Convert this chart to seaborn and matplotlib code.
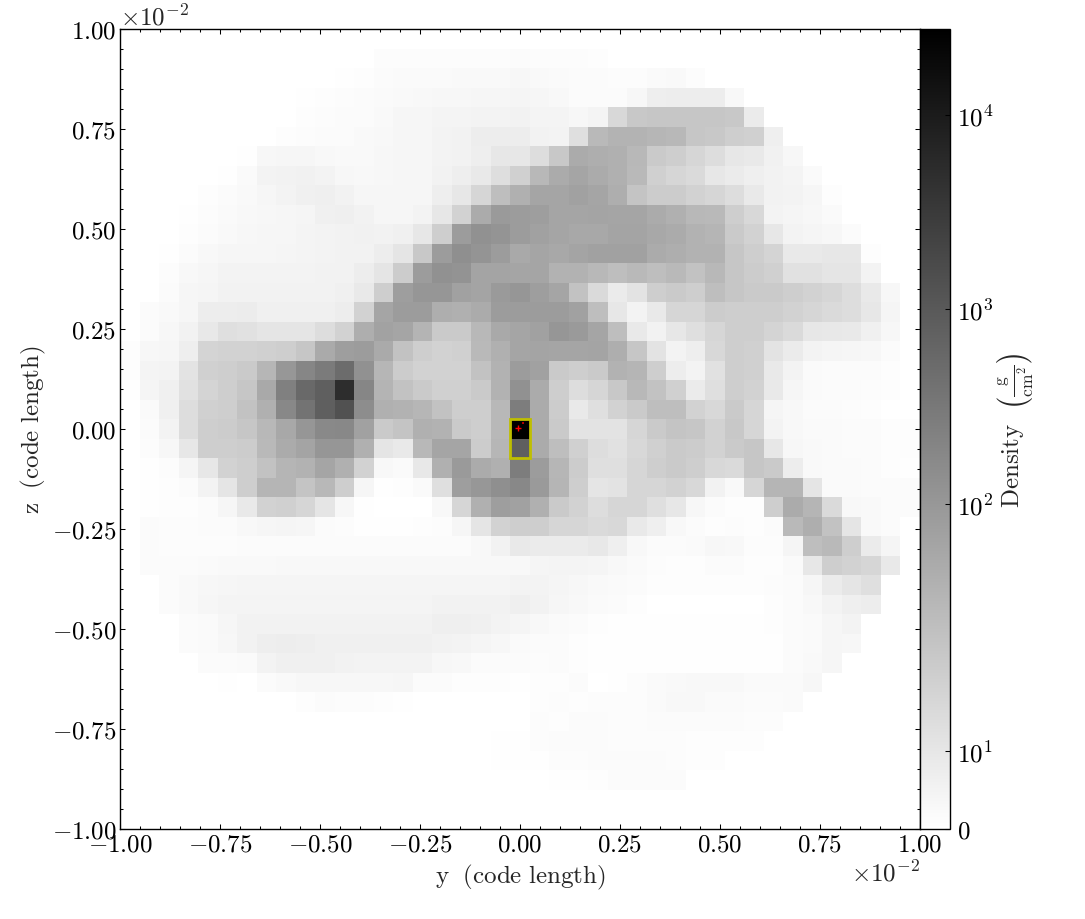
import numpy as np
import matplotlib
matplotlib.use("Agg")
import matplotlib.pyplot as plt
from matplotlib.colors import SymLogNorm
from matplotlib.patches import Rectangle
from matplotlib.ticker import FixedLocator
import seaborn as sns

# Density per grid cell: (index of first listed column, values); the rest of the row is empty.
density_rows = [
 (0, []),
 (13, [1.5,1.5,1.5,1.5,1.5,1.5,1.5,2,1.6,1.6,1.6,1.2]),
 (11, [.8,1.2,2,2.8,2.8,2.8,3,3,3.2,4,3.2,2.8,2,2,1.6,1.6,2.8,3.2,1.6]),
 (9, [.8,1.2,1.6,2,2.8,3.2,3.6,4,4,4.8,4.8,5.2,4.4,3.6,2.4,2,2,4,8.4,8.8,9.2,9.2,3.6]),
 (8, [.4,1.2,1.6,2,2.4,3.2,4.8,4.8,5.6,5.6,6,6,6.8,5.6,5.6,4,5.6,19,27,28,28,28,28,27,10]),
 (7, [.4,1.2,1.6,2,2,3.2,3.6,4.4,4.8,6,6.8,8.8,9.2,9.2,6.8,6,16,35,44,44,40,37,28,27,24,23,8]),
 (6, [.8,4,4.4,4.8,3.6,3.2,3.2,4,4.4,4.8,6,6.8,8.4,12,12,17,27,60,54,50,37,26,24,20,17,12,11,7,4]),
 (5, [.8,2.8,6,6.8,7,6,4,3.6,4,4.4,4.8,6.8,8.4,11,16.4,23,37,60,73,60,50,35,23,20,18,12,10,8,6.8,5.6,2.8]),
 (4, [1.2,2,3.2,4.8,6,7.6,8,6.8,4.8,4.4,4.4,4.8,8.4,12,20,32,50,73,73,87,73,54,29,25,25,22,20,17,11,6.8,6,4.4,1.2]),
 (3, [.8,1.6,2.8,3.6,4,4.4,5.2,7.6,8,6.8,4.8,4.8,6,12,22,60,113,105,97,73,73,78,73,73,60,50,37,35,24,19,6,5.2,4,2.8]),
 (3, [1.2,2,3.2,4,4.4,4.8,5.6,6,6.4,7.2,6.8,7.6,12,24,105,153,137,105,87,73,67,67,78,78,67,60,46,41,26,22,12,6,5.2,4,2]),
 (2, [.8,2.4,3.6,4.8,4.8,4.8,5.2,5.6,6,6.4,6.8,8.8,13,27,105,165,137,105,65,73,67,78,87,87,87,60,54,46,46,28,24,21,11,11,12,12,1.2]),
 (2, [1.6,3.6,4.4,6,6,6,6,6,6.4,6.8,8.8,13,25,105,153,143,78,78,73,73,46,46,37,32,35,32,35,30,37,28,25,23,15,15,13,13,6]),
 (2, [2,4.4,5.2,6.8,6.8,6.8,6.8,6.8,6.8,7.6,11,24,97,127,127,87,78,113,127,97,73,30,18,10,14,24,26,24,32,28,26,26,24,22,20,17,11,4]),
 (1, [2,3.2,4.8,9.2,9.2,9.6,7.6,7.6,7.6,7.6,9.2,22,73,105,105,54,50,60,105,105,105,105,87,32,12,6,11,20,20,25,24,24,24,22,20,18,17,12,5.2]),
 (1, [2.4,4,6.8,11.6,16,14.8,13,13,13,17,22,54,84,73,43,26,26,37,65,73,87,127,113,73,32,11,6.8,12,16,20,24,24,21,18,12,11.6,10.8,7.6,4]),
 (0, [1.2,4,4.8,8.4,21,22,22,23,24,28,62,97,105,62,30,24,22,23,35,50,73,78,73,73,78,54,28,14,6,8.4,19,24,23,14,10,6,5.2,4.4,4,2]),
 (0, [1.2,5.6,6,14,23,24,26,40,122,237,345,600,153,40,25,22,22,22,30,46,105,87,26,24,26,46,41,24,9,6,15,24,23,11,6,2.8,2,2,2,1.2]),
 (0, [.8,5.2,7.6,15,21,24,28,65,295,680,980,6200,237,43,30,26,23,23,26,46,153,60,24,17,20,27,37,30,23,10,16,24,22,11,4.4,2.8,2,2,1.6,1.2,.4]),
 (0, [.4,2.8,7.6,17,23,24,30,50,220,470,980,1650,178,50,46,40,30,24,24,37,320,60,25,11,16,22,26,32,32,22,19,26,20,5.2,3.6,2.4,2,1.6,1.2,.4,.4]),
 (1, [2,6,17,24,25,28,37,67,127,205,220,87,26,29,50,46,26,24,37,27600,60,26,14,14,14,20,26,29,28,22,27,20,6,3.6,2.8,2.8,2.4,2,1.2,1.2]),
 (1, [1.6,4,12,24,24,25,35,60,78,127,127,50,13,11,37,73,73,25,40,980,60,32,23,17,15,19,23,26,25,22,26,28,12,4,3.2,2.8,2.4,2,1.2,1.2]),
 (1, [.8,1.6,5.2,12,22,24,30,41,46,73,50,22,3.6,2.8,11.6,50,113,60,50,320,105,40,25,16,16,20,24,26,24,19,18,28,26,9,3.2,2.8,2.8,2.4,1.2,.8]),
 (1, [.8,1.2,2,6,13,24,41,41,29,37,24,4.4,.8,1.2,2.8,16,97,122,165,220,113,41,24,13,14,20,20,22,19,6.8,3.2,20,41,41,13,2.8,2.8,2.4,2,2]),
 (1, [.8,1.2,1.2,2,4.8,11,22,23,20,13,4,.8,.4,.4,.4,3.6,20,50,97,87,50,26,22,17,20,20,16,12,4,2,1.2,1.2,24,60,41,18,3.6,3.2,2.4,2]),
 (1, [2,1.6,1.6,2,2.4,3.6,4.8,5.2,4.4,2,1.6,.8,.8,.8,1.2,1.6,4.8,13,22,24,24,20,20,18,19,11,8,3.6,2,1.2,1.6,1.2,2.4,35,54,30,13,3.2,2.4]),
 (1, [2,1.6,1.6,1.6,1.6,2,2,2,2,2,2,2,2,2,2,2,2.4,3.6,6.8,11,10,10,10,11.6,8,3.6,2,2,2.8,4,3.6,1.6,1.6,5.2,32,35,24,10,5.2]),
 (1, [2,2,2.4,2.8,3.2,3.2,3.2,3.6,3.6,3.6,3.6,3.6,3.6,3.6,3.6,3.6,3.6,3.6,3.6,3.6,5.2,5.6,5.6,5.2,3.6,2.8,1.6,1.2,1.2,2,2,1.2,1.2,2.8,12,24,22,20,11]),
 (2, [2,3.2,4,4.8,5,5,5,5,5,5,5,5,5,5,5,5,5,5,6,6,5.2,4,3.2,2.8,2.4,1,1,1,1,1,1,1.6,2.4,4.8,10,13,16]),
 (2, [2,3.2,4.8,5.6,5.6,5.6,5.6,5.6,5.6,5.6,5.6,5.6,5.6,5.6,6.8,6.8,6.8,6.8,8,6.8,4.8,3.6,2.8,2,1.2,.4,.4,.4,.4,.4,.4,1.2,2,3.6,6,8,9.2]),
 (3, [2,2.8,4.8,6.8,6.8,6.8,6.8,6.8,6.8,6.8,6.8,6.8,6.8,8,8,7.6,6,5.2,3.6,2.8,2,1.2,.6,.6,.6,.6,.6,.6,.6,.6,1.2,2,2.8,4.8,6]),
 (3, [2,2.8,4,6.8,8.4,9.2,8.4,7.6,7.6,7.6,7.6,7.6,7.6,6.8,6,5.2,4,2.8,2,2,1.2,.6,.6,.6,.6,.6,.6,.6,.6,.6,.6,2,2.8,4.8,4]),
 (4, [2,2,2.8,6,7.6,7.6,7.6,6.8,6,6,6,6,4,3.6,2,2,2,1.6,2,1.2,.8,.8,.8,.8,.8,.8,.8,.8,.8,.8,2,3.2,4.8]),
 (5, [.8,.4,2,3.2,4,4,4,4,4,4.4,2,2,1.2,1.2,1.2,.8,1.2,1.2,2,.4,.8,1.6,2.8,3.2,3.6,3.6,3.6,2.8,2.8,2.8,4]),
 (9, [1.2,2,1.6,1.6,1.2,.8,.3,.3,.3,.3,.3,.3,1.2,1.6,1.2,1.6,1.6,1.6,2.8,3.6,3.6,2.8,2.8,2.4,2.4,2.8]),
 (15, [.4,.4,.4,.4,.4,.4,1.6,1.2,2,2,1.6,1.6,2,2,2,2,2,1.6,1.6]),
 (19, [.6,.8,1.6,2,2,2,1.6,1.6,1.6,1.6,1.2,1.2,1.2,1.2]),
 (19, [.6,.8,.8,1.6,1.6,2,2,2,2,1.6,1.2,1.2]),
 (21, [.4,.8,.8,1.2,2,2,2,2]),
 (0, []),
 (0, []),
]

axis_ticks = [-1.00, -0.75, -0.50, -0.25, 0.00, 0.25, 0.50, 0.75, 1.00]
minor_step_values = [round(-1 + 0.05 * i, 2) for i in range(41)]
cbar_ticks = [0, 10, 100, 1000, 10000]
cbar_labels = [r"$0$", r"$10^{1}$", r"$10^{2}$", r"$10^{3}$", r"$10^{4}$"]
# particles, axis units of 1e-2 code length
sink_y = [-0.00425, 0.0075]
sink_z = [0.00175, 0.014]
VMAX = 27600
LINTHRESH = 27.6
reading_bias = 0.82  # my grey readings came out slightly dark

N = 41
density = np.zeros((N, N))
for r, (c0, vals) in enumerate(density_rows):
    density[r, c0:c0 + len(vals)] = vals
density[density < VMAX] *= reading_bias

sns.set_theme(style="ticks")
plt.rcParams.update({
    "mathtext.fontset": "cm",
    "font.family": "serif",
    "font.serif": ["cmr10", "DejaVu Serif"],
    "axes.formatter.use_mathtext": True,
    "axes.unicode_minus": False,
    "axes.axisbelow": False,
})
FS = 18

to_x = lambda v: (np.asarray(v) + 1) / 2 * N
to_y = lambda v: (1 - np.asarray(v)) / 2 * N

W, H = 1085, 920
fig = plt.figure(figsize=(W / 100, H / 100), dpi=100, facecolor="white")
ax = fig.add_axes([120 / W, 1 - 830 / H, 800 / W, 800 / H])
cax = fig.add_axes([920 / W, 1 - 830 / H, 30 / W, 800 / H])

norm = SymLogNorm(linthresh=LINTHRESH, linscale=1.0, vmin=0, vmax=VMAX, base=10)
sns.heatmap(density, ax=ax, cbar_ax=cax, cmap="gray_r", norm=norm,
            xticklabels=False, yticklabels=False)
ax.set_axisbelow(False)
cax.set_axisbelow(False)

for s in ax.spines.values():
    s.set_visible(True)
    s.set_linewidth(1.0)
    s.set_color("black")

ax.set_xticks(to_x(axis_ticks))
ax.set_yticks(to_y(axis_ticks))
ax.set_xticklabels([f"${v:.2f}$" for v in axis_ticks], fontsize=FS)
ax.set_yticklabels([f"${v:.2f}$" for v in axis_ticks], fontsize=FS)
ax.xaxis.set_minor_locator(FixedLocator(to_x(minor_step_values)))
ax.yaxis.set_minor_locator(FixedLocator(to_y(minor_step_values)))
ax.tick_params(which="both", direction="in", top=True, right=True, color="black",
               width=0.75, labelcolor="black", bottom=True, left=True)
ax.tick_params(which="major", length=3.8)
ax.tick_params(which="minor", length=2)
ax.tick_params(axis="x", which="major", pad=3.5)
ax.tick_params(axis="y", which="major", pad=2.5)
ax.set_xlabel(r"$\mathrm{y\ \ (code\ length)}$", fontsize=FS, labelpad=4)
ax.set_ylabel(r"$\mathrm{z\ \ (code\ length)}$", fontsize=FS, labelpad=3)
ax.text(1.0, -0.038, r"$\times 10^{-2}$", transform=ax.transAxes, ha="right", va="top", fontsize=FS)
ax.text(0.0, 1.0, r"$\times 10^{-2}$", transform=ax.transAxes, ha="left", va="bottom", fontsize=FS)

ax.add_patch(Rectangle((20, 20), 1, 2, fill=False, edgecolor=(0.75, 0.75, 0), linewidth=2, clip_on=False))
ax.scatter(to_x(sink_y[:1]), to_y(sink_z[:1]), marker="+", s=14, color="red", linewidths=1, zorder=5)
ax.scatter(to_x(sink_y[1:]), to_y(sink_z[1:]), marker="s", s=3, color="#b00000", linewidths=0, zorder=5)

cbar = ax.collections[0].colorbar
cbar.outline.set_linewidth(1.0)
cbar.outline.set_edgecolor("black")
cbar.ax.minorticks_off()
cbar.set_ticks(cbar_ticks)
cbar.set_ticklabels(cbar_labels, fontsize=FS)
cax.yaxis.set_ticks_position("right")
cax.tick_params(which="major", direction="in", length=3.8, width=0.75, color="black", labelcolor="black", pad=5)
cbar.set_label(r"$\mathrm{Density}\ \ \left(\frac{\mathrm{g}}{\mathrm{cm}^{2}}\right)$", fontsize=FS, labelpad=1)

fig.savefig("out.png", dpi=100, facecolor="white")
